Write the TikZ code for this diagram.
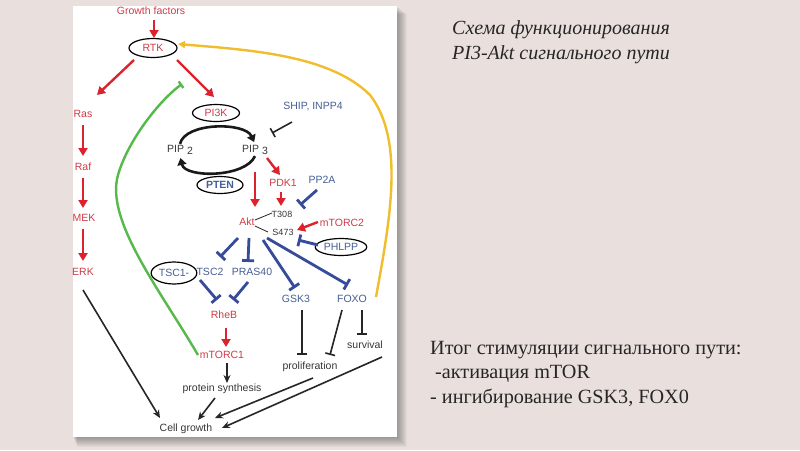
\documentclass[tikz,border=0pt]{standalone}
\usepackage{fontspec}
\setmainfont{Liberation Serif}
\newfontfamily\labfont{Liberation Sans}
\usetikzlibrary{arrows.meta,shapes.geometric}

\definecolor{bgpink}{RGB}{233,224,221}
\definecolor{txtgrey}{RGB}{55,55,55}
\definecolor{lblred}{RGB}{205,60,72}
\definecolor{lblblue}{RGB}{70,95,150}
\definecolor{arrred}{RGB}{220,35,45}
\definecolor{barblue}{RGB}{55,75,155}
\definecolor{fbgreen}{RGB}{85,185,75}
\definecolor{fbyellow}{RGB}{240,190,45}

\tikzset{
  lbl/.style={font=\labfont\fontsize{10.5}{12}\selectfont, text=txtgrey, inner sep=1pt},
  rlbl/.style={lbl, text=lblred},
  blbl/.style={lbl, text=lblblue},
  oval/.style={ellipse, draw=black, line width=1.2pt, inner sep=0pt},
  act/.style={draw=arrred, line width=2.4pt, -{Triangle[length=8pt,width=9pt]}},
  blk/.style={draw=black!85, line width=1.6pt, -{Stealth[length=8pt,width=7pt]}},
  inh/.style={draw=barblue, line width=2.8pt, -{Bar[width=12pt]}},
  kinh/.style={draw=black!85, line width=1.6pt, -{Bar[width=10pt]}},
  thin/.style={draw=black!85, line width=0.8pt},
  cyc/.style={draw=black!90, line width=2.6pt, -{Triangle[length=7pt,width=9pt]}},
}

\begin{document}
\begin{tikzpicture}[x=1pt,y=-1pt]
  % page
  \useasboundingbox (0,0) rectangle (800,450);
  \fill[bgpink] (0,0) rectangle (800,450);
  \foreach \s in {1,...,10}
    \fill[black, opacity=0.035] (73+0.4*\s,6+0.8*\s) rectangle (397+\s,437+\s);
  \fill[white] (73,6) rectangle (397,437);

  % labels
  \node[rlbl] (gf) at (151,11) {Growth factors};
  \node[oval, rlbl, minimum width=48pt, minimum height=19pt] (rtk) at (153,48) {RTK};
  \node[oval, rlbl, minimum width=47pt, minimum height=17pt] (pi3k) at (216,113) {PI3K};
  \node[rlbl] (ras) at (83,114) {Ras};
  \node[rlbl] (raf) at (83,167) {Raf};
  \node[rlbl] (mek) at (84,218) {MEK};
  \node[rlbl] (erk) at (83,272) {ERK};
  \node[lbl] (pip2) at (180,150) {PIP \raisebox{-2.5pt}{2}};
  \node[lbl] (pip3) at (255,150) {PIP \raisebox{-2.5pt}{3}};
  \node[blbl] (ship) at (313,107) {SHIP, INPP4};
  \node[oval, blbl, font=\labfont\bfseries\fontsize{10.5}{12}\selectfont, minimum width=46pt, minimum height=17pt] (pten) at (220,185) {PTEN};
  \node[rlbl] (pdk1) at (283,183) {PDK1};
  \node[blbl] (pp2a) at (322,180) {PP2A};
  \node[rlbl] (akt) at (247,222) {Akt};
  \node[lbl, font=\labfont\fontsize{9}{10}\selectfont] (t308) at (282,214) {T308};
  \node[lbl, font=\labfont\fontsize{9}{10}\selectfont] (s473) at (283,232) {S473};
  \node[rlbl] (mtorc2) at (342,223) {mTORC2};
  \node[oval, blbl, minimum width=46pt, minimum height=17pt] (phlpp) at (341,247) {PHLPP};
  \node[oval, blbl, minimum width=40pt, minimum height=22pt] (tsc1) at (174,273) {TSC1-};
  \node[blbl] (tsc2) at (210,272) {TSC2};
  \node[blbl] (pras) at (252,272) {PRAS40};
  \node[blbl] (gsk3) at (296,299) {GSK3};
  \node[blbl] (foxo) at (352,299) {FOXO};
  \node[rlbl] (rheb) at (224,315) {RheB};
  \node[rlbl] (mtorc1) at (222,355) {mTORC1};
  \node[lbl] (prot) at (222,389) {protein synthesis};
  \node[lbl] (prolif) at (310,367) {proliferation};
  \node[lbl] (surv) at (365,345) {survival};
  \node[lbl] (cg) at (186,429) {Cell growth};
  \coordinate (gbar) at (182,84);

  % feedback loops
  \draw[draw=fbgreen, line width=2.4pt, -{Bar[width=8pt]}]
    ([shift={(-24,0)}]mtorc1.center) .. controls (160,290) and (105,220) .. (118,175)
    .. controls (128,140) and (160,100) .. (gbar);
  \draw[draw=fbyellow, line width=2.4pt, -{Triangle[length=7pt,width=7pt]}]
    ([shift={(24,-2)}]foxo.center) .. controls (390,220) and (405,140) .. (370,95)
    .. controls (330,55) and (250,50) .. ([shift={(25,-4)}]rtk.center);

  % activations
  \draw[act] ([shift={(3,9)}]gf.center) -- ([shift={(1,-10)}]rtk.center);
  \draw[act] ([shift={(-19,12)}]rtk.center) -- ([shift={(14,-19)}]ras.center);
  \draw[act] ([shift={(24,12)}]rtk.center) -- ([shift={(-2,-16)}]pi3k.center);
  \draw[act] ([shift={(0,11)}]ras.center) -- ([shift={(0,-11)}]raf.center);
  \draw[act] ([shift={(0,11)}]raf.center) -- ([shift={(-1,-10)}]mek.center);
  \draw[act] ([shift={(-1,11)}]mek.center) -- ([shift={(0,-11)}]erk.center);
  \draw[act] ([shift={(0,22)}]pip3.center) -- ([shift={(8,-15)}]akt.center);
  \draw[act] ([shift={(12,8)}]pip3.center) -- ([shift={(-3,-8)}]pdk1.center);
  \draw[act] ([shift={(-2,9)}]pdk1.center) -- ([shift={(-1,-8)}]t308.center);
  \draw[act] ([shift={(-24,-1)}]mtorc2.center) -- ([shift={(14,-2)}]s473.center);
  \draw[act] ([shift={(2,13)}]rheb.center) -- ([shift={(4,-8)}]mtorc1.center);

  % PIP cycle
  \draw[cyc, shorten >=2pt] (pip2.north) .. controls (185,122) and (245,122) .. (pip3.north);
  \draw[cyc, shorten >=2pt] (pip3.south) .. controls (245,178) and (185,178) .. (pip2.south);
  \draw[kinh] ([shift={(-21,15)}]ship.center) -- ([shift={(17,-17)}]pip3.center);

  % Akt sites
  \draw[thin] ([shift={(8,-2)}]akt.center) -- ([shift={(-10,-1)}]t308.center);
  \draw[thin] ([shift={(8,4)}]akt.center) -- ([shift={(-15,0)}]s473.center);
  \draw[inh] ([shift={(-5,10)}]pp2a.center) -- ([shift={(18,-9)}]t308.center);
  \draw[inh] ([shift={(-23,-2)}]phlpp.center) -- ([shift={(15,8)}]s473.center);

  % Akt targets
  \draw[inh] ([shift={(-9,16)}]akt.center) -- ([shift={(10,-15)}]tsc2.center);
  \draw[inh] ([shift={(2,16)}]akt.center) -- ([shift={(-4,-10)}]pras.center);
  \draw[inh] ([shift={(16,18)}]akt.center) -- ([shift={(-1,-11)}]gsk3.center);
  \draw[inh] ([shift={(20,16)}]akt.center) -- ([shift={(-4,-14)}]foxo.center);
  \draw[inh] ([shift={(-10,8)}]tsc2.center) -- ([shift={(-7,-15)}]rheb.center);
  \draw[inh] ([shift={(-4,10)}]pras.center) -- ([shift={(9,-15)}]rheb.center);

  % outputs
  \draw[kinh] ([shift={(6,11)}]gsk3.center) -- ([shift={(-8,-12)}]prolif.center);
  \draw[kinh] ([shift={(-10,11)}]foxo.center) -- ([shift={(20,-12)}]prolif.center);
  \draw[kinh] ([shift={(10,11)}]foxo.center) -- ([shift={(-3,-10)}]surv.center);
  \draw[blk] ([shift={(5,8)}]mtorc1.center) -- ([shift={(5,-6)}]prot.center);
  \draw[blk] ([shift={(0,18)}]erk.center) -- ([shift={(-26,-11)}]cg.center);
  \draw[blk] ([shift={(-7,9)}]prot.center) -- ([shift={(12,-9)}]cg.center);
  \draw[blk] ([shift={(3,11)}]prolif.center) -- ([shift={(29,-11)}]cg.center);
  \draw[blk] ([shift={(17,12)}]surv.center) -- ([shift={(36,-1)}]cg.center);

  % slide text
  \node[anchor=north west, align=left, inner sep=0pt, text=black!85,
        font=\itshape\fontsize{20}{25}\selectfont] (title) at (452,20)
        {Схема функционирования\\PI3-Akt сигнального пути};
  \node[anchor=north west, align=left, inner sep=0pt, text=black!85,
        font=\fontsize{20.2}{24.5}\selectfont] (summary) at (430,341)
        {Итог стимуляции сигнального пути:\\\hspace{5pt}-активация mTOR\\- ингибирование GSK3, FOX0};
\end{tikzpicture}
\end{document}
